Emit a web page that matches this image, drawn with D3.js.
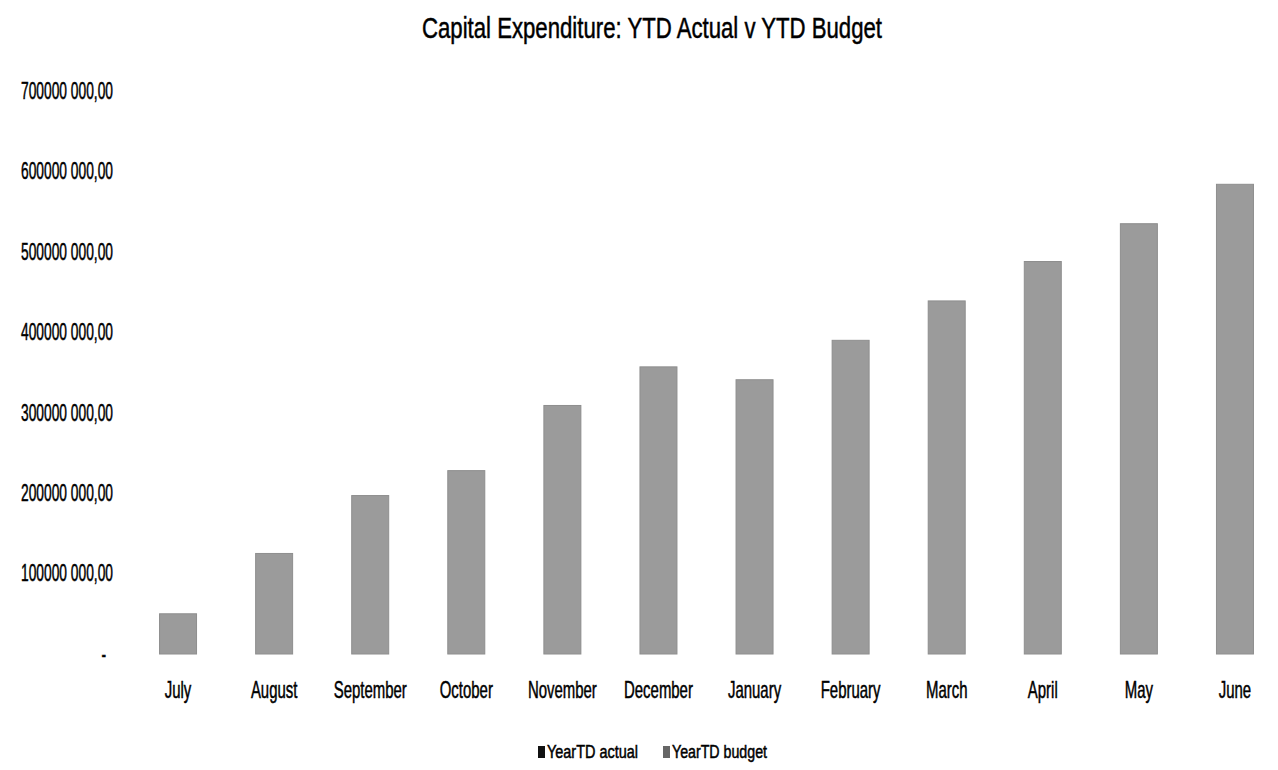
<!DOCTYPE html>
<html>
<head>
<meta charset="utf-8">
<script src="https://cdn.jsdelivr.net/npm/d3@7/dist/d3.min.js"></script>
<style>
  html, body { margin: 0; padding: 0; background: #fff; }
  svg { display: block; font-family: "Liberation Sans", Arial, sans-serif; }
  svg text { stroke: #000; stroke-width: 0.5px; }
</style>
</head>
<body>
<svg id="chart" width="1278" height="770"></svg>
<script>
// Months of the financial year
const months = ["July", "August", "September", "October", "November", "December",
                "January", "February", "March", "April", "May", "June"];
// Year-to-date actual capital expenditure
const ytdActual = [0, 0, 0, 0, 0, 0, 0, 0, 0, 0, 0, 0];
// Year-to-date budgeted capital expenditure
const ytdBudget = [50e6, 125e6, 197e6, 228e6, 309e6, 357e6,
                   341e6, 390e6, 439e6, 488e6, 535e6, 584e6];
// Value axis ticks
const yTicks = [0, 100e6, 200e6, 300e6, 400e6, 500e6, 600e6, 700e6];
const seriesNames = ["YearTD actual", "YearTD budget"];

const svg = d3.select("#chart");

const x = d3.scaleBand()
  .domain(months)
  .range([130, 1283])
  .paddingInner(0.615)
  .paddingOuter(0.3075);

const y = d3.scaleLinear()
  .domain([0, 700e6])
  .range([654, 91]);

// "700000 000,00" style labels, zero shown as a dash
function fmtValue(v) {
  if (v === 0) return "-";
  const [intPart, dec] = d3.format(".2f")(v).split(".");
  return intPart.slice(0, -3) + " " + intPart.slice(-3) + "," + dec;
}

// Title
svg.append("text")
  .attr("x", 652)
  .attr("y", 38)
  .attr("text-anchor", "middle")
  .attr("font-size", 30)
  .attr("textLength", 460)
  .attr("lengthAdjust", "spacingAndGlyphs")
  .attr("fill", "#000")
  .text("Capital Expenditure: YTD Actual v YTD Budget");

// Y axis
const yAxis = svg.append("g")
  .attr("transform", "translate(113,0)")
  .call(d3.axisLeft(y).tickValues(yTicks).tickSize(0).tickPadding(0).tickFormat(fmtValue));
yAxis.select(".domain").remove();
yAxis.selectAll("text")
  .attr("x", 0)
  .attr("font-size", 23)
  .attr("fill", "#000")
  .attr("font-family", "\"Liberation Sans\", Arial, sans-serif")
  .attr("transform", d => d === 0 ? "translate(-7,0) scale(0.6,1)" : "scale(0.6,1)");

// X axis
const xAxis = svg.append("g")
  .attr("transform", "translate(0,654)")
  .call(d3.axisBottom(x).tickSize(0).tickPadding(28));
xAxis.select(".domain").remove();
xAxis.selectAll("text")
  .attr("font-size", 23)
  .attr("fill", "#000")
  .attr("font-family", "\"Liberation Sans\", Arial, sans-serif")
  .attr("transform", "scale(0.65,1)");

// Bars: budget behind, actual in front
const barW = x.bandwidth();
svg.append("g")
  .selectAll("rect")
  .data(months.map((m, i) => ({ m, v: ytdBudget[i] })))
  .join("rect")
  .attr("x", d => x(d.m))
  .attr("width", barW)
  .attr("y", d => y(d.v))
  .attr("height", d => y(0) - y(d.v))
  .attr("fill", "#9b9b9b")
  .attr("stroke", "#8e8e8e")
  .attr("stroke-width", 1);

svg.append("g")
  .selectAll("rect")
  .data(months.map((m, i) => ({ m, v: ytdActual[i] })))
  .join("rect")
  .attr("x", d => x(d.m))
  .attr("width", barW)
  .attr("y", d => y(d.v))
  .attr("height", d => y(0) - y(d.v))
  .attr("fill", "#111");

// Legend
const legendColors = ["#111", "#666"];
const legendX = [538, 663];
const legend = svg.append("g");
seriesNames.forEach((name, i) => {
  legend.append("rect")
    .attr("x", legendX[i])
    .attr("y", 746)
    .attr("width", 7)
    .attr("height", 12)
    .attr("fill", legendColors[i]);
  legend.append("text")
    .attr("x", legendX[i] + 9)
    .attr("y", 758)
    .attr("font-size", 18)
    .attr("fill", "#000")
    .attr("textLength", i === 0 ? 91 : 95)
    .attr("lengthAdjust", "spacingAndGlyphs")
    .text(name);
});
</script>
</body>
</html>
